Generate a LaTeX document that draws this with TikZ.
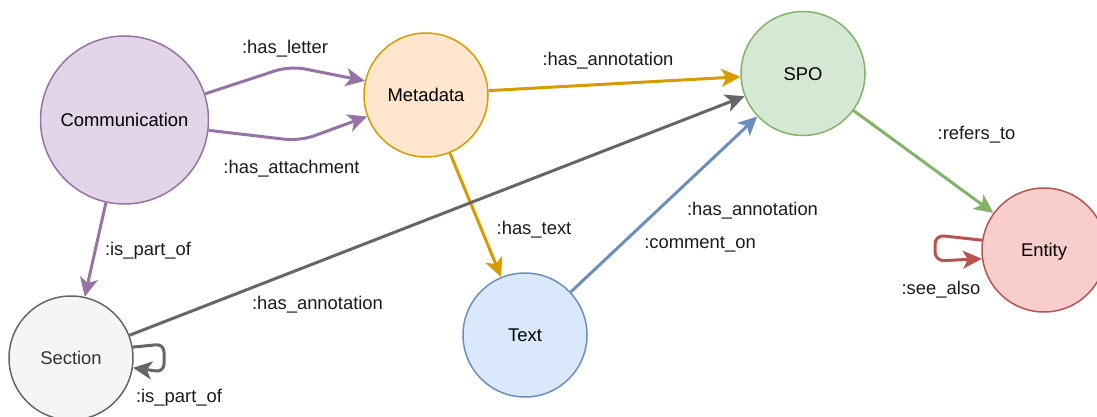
\documentclass[tikz,border=0pt]{standalone}
\usepackage{fontspec}
\setmainfont{Liberation Sans}
\usetikzlibrary{arrows.meta}

\definecolor{purpleFill}{HTML}{E1D5E7}\definecolor{purpleLine}{HTML}{9673A6}
\definecolor{orangeFill}{HTML}{FFE6CC}\definecolor{orangeLine}{HTML}{D79B00}
\definecolor{greenFill}{HTML}{D5E8D4}\definecolor{greenLine}{HTML}{82B366}
\definecolor{redFill}{HTML}{F8CECC}\definecolor{redLine}{HTML}{B85450}
\definecolor{blueFill}{HTML}{DAE8FC}\definecolor{blueLine}{HTML}{6C8EBF}
\definecolor{grayFill}{HTML}{F5F5F5}\definecolor{grayLine}{HTML}{666666}
\definecolor{labelText}{HTML}{1A1A1A}

\tikzset{
  txt/.style={font=\fontsize{18.4}{22}\selectfont, text height=13.2pt, text depth=0pt},
  classnode/.style={circle, draw, line width=1.5pt, minimum size=124pt, inner sep=0pt, txt, text=black},
  lbl/.style={inner sep=0pt, txt, text=labelText},
  rel/.style={line width=3pt, -{Stealth[length=19pt,width=18pt,inset=5pt]}},
}

\begin{document}
\begin{tikzpicture}[x=1pt,y=-1pt]
\useasboundingbox (0,0) rectangle (1097,417);
\clip (0,0) rectangle (1097,417);

% classes
\node[classnode, minimum size=168pt, fill=purpleFill, draw=purpleLine] (comm) at (124.5,120) {Communication};
\node[classnode, fill=orangeFill, draw=orangeLine] (meta) at (426,95) {Metadata};
\node[classnode, fill=greenFill, draw=greenLine] (spo) at (803,73.5) {SPO};
\node[classnode, fill=redFill, draw=redLine] (ent) at (1044,250) {Entity};
\node[classnode, fill=grayFill, draw=grayLine, text=black!80] (sec) at (71,358) {Section};
\node[classnode, fill=blueFill, draw=blueLine] (text) at (525,335) {Text};

% bend and loop points
\coordinate (letterBend) at (290,66);
\coordinate (attachBend) at (300,141);
\coordinate (entLoopA) at (935,235);
\coordinate (entLoopB) at (935,261);
\coordinate (secLoopA) at (164,344);
\coordinate (secLoopB) at (164,372);

% relations
\draw[rel, purpleLine, rounded corners=15pt] (comm.18) -- (letterBend) -- (meta.167);
\draw[rel, purpleLine, rounded corners=15pt] (comm.-7) -- (attachBend) -- (meta.200);
\draw[rel, purpleLine] (comm) -- (sec);
\draw[rel, orangeLine] (meta.4) -- (spo.183);
\draw[rel, orangeLine] (meta) -- (text);
\draw[rel, grayLine] (sec) -- (spo);
\draw[rel, blueLine] (text) -- (spo);
\draw[rel, greenLine] (spo) -- (ent);
\draw[rel, redLine, rounded corners=9pt] (ent.171) -- (entLoopA) -- (entLoopB) -- (ent.188);
\draw[rel, grayLine, rounded corners=8pt] (sec.10) -- (secLoopA) -- (secLoopB) -- (sec.-9);

% relation labels
\node[lbl] (lLetter) at (285,46.5) {:has\_letter};
\node[lbl] (lAttach) at (291.5,166.5) {:has\_attachment};
\node[lbl] (lMetaAnn) at (608,59) {:has\_annotation};
\node[lbl] (lSecAnn) at (317.5,302.5) {:has\_annotation};
\node[lbl] (lPart) at (148,248.5) {:is\_part\_of};
\node[lbl] (lPartLoop) at (179,395.5) {:is\_part\_of};
\node[lbl] (lHasText) at (534,227.5) {:has\_text};
\node[lbl] (lComment) at (700,241.5) {:comment\_on};
\node[lbl] (lTextAnn) at (752.5,208.5) {:has\_annotation};
\node[lbl] (lRefers) at (976.5,133) {:refers\_to};
\node[lbl] (lSeeAlso) at (941,287.5) {:see\_also};
\end{tikzpicture}
\end{document}
